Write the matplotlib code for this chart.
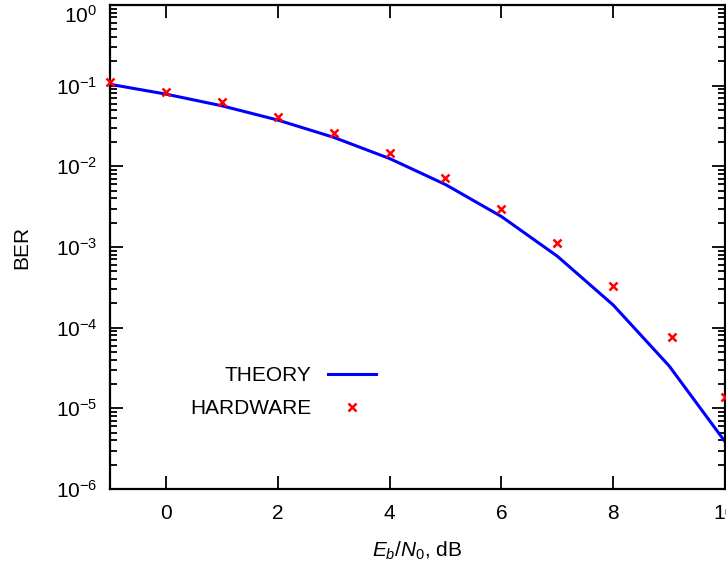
import matplotlib
matplotlib.use("Agg")
import matplotlib.pyplot as plt
from matplotlib.ticker import LogLocator, FixedLocator, NullLocator, LogFormatterSciNotation

plt.rcParams['font.family'] = ['Liberation Sans', 'DejaVu Sans']
plt.rcParams['mathtext.fontset'] = 'custom'
plt.rcParams['mathtext.rm'] = 'Liberation Sans'
plt.rcParams['mathtext.it'] = 'Liberation Sans:italic'
plt.rcParams['mathtext.bf'] = 'Liberation Sans:bold'

# Data
ebn0_theory = [-1, 0, 1, 2, 3, 4, 5, 6, 7, 8, 9, 10]
ber_theory = [0.104, 0.0786, 0.0563, 0.0375, 0.0229, 0.0125, 0.00595,
              0.00239, 7.7e-4, 1.91e-4, 3.36e-5, 3.87e-6]
ebn0_hw = [-1, 0, 1, 2, 3, 4, 5, 6, 7, 8, 9.05, 10]
ber_hw = [0.112, 0.084, 0.062, 0.041, 0.0257, 0.0146, 0.00715,
          0.0030, 0.00113, 3.3e-4, 7.6e-5, 1.38e-5]
x_ticks = [0, 2, 4, 6, 8, 10]

FS = 15

fig = plt.figure(figsize=(7.26, 5.73), dpi=100)
ax = fig.add_axes([110/726, 1 - 489/573, 615/726, 484/573])

ax.plot(ebn0_theory, ber_theory, color='#0000ff', lw=2.2, label='THEORY')
ax.plot(ebn0_hw, ber_hw, linestyle='none', marker='x', color='#ff0000',
        ms=5.5, mew=1.8, label='HARDWARE', clip_on=False, zorder=5)

ax.set_yscale('log')
ax.set_xlim(-1, 10)
ax.set_ylim(1e-6, 1)

ax.xaxis.set_major_locator(FixedLocator(x_ticks))
ax.xaxis.set_minor_locator(NullLocator())
ax.yaxis.set_major_locator(LogLocator(base=10, numticks=10))
ax.yaxis.set_minor_locator(LogLocator(base=10, subs=range(2, 10), numticks=10))
ax.yaxis.set_major_formatter(LogFormatterSciNotation())

ax.tick_params(which='both', direction='in', top=True, right=True,
               labelsize=FS, width=1.3, colors='black')
ax.tick_params(which='major', length=9.5)
ax.tick_params(which='minor', length=5)
ax.tick_params(axis='x', which='major', pad=11)
ax.tick_params(axis='y', which='major', pad=9)
for s in ax.spines.values():
    s.set_linewidth(1.6)

ax.set_xlabel('$E_b/N_0$, dB', fontsize=FS, labelpad=12)
ax.set_ylabel('BER', fontsize=FS, labelpad=18)

leg = ax.legend(loc='center right', bbox_to_anchor=(0.432, 0.2), frameon=False,
                markerfirst=False, fontsize=FS, handlelength=2.3,
                handletextpad=0.8, labelspacing=0.7, borderpad=0,
                borderaxespad=0)

fig.canvas.draw()
for lbl in ax.get_yticklabels():
    if 0.99 <= lbl.get_position()[1] <= 1.01:
        lbl.set_verticalalignment('top')

fig.savefig('out.png', dpi=100)
